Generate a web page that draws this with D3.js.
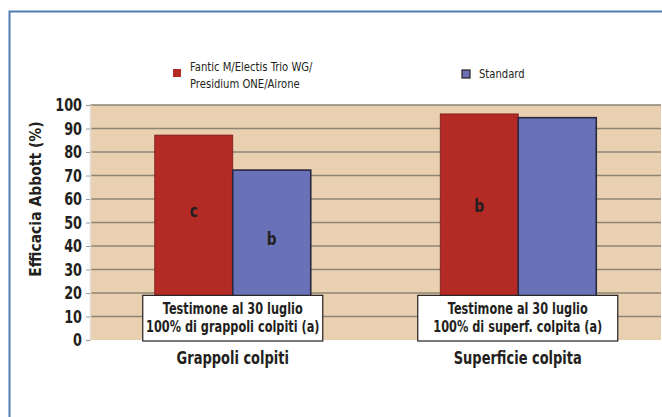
<!DOCTYPE html>
<html><head><meta charset="utf-8">
<script src="https://cdn.jsdelivr.net/npm/d3@7/dist/d3.min.js"></script>
<style>body{margin:0;background:#fff}svg{display:block}</style>
</head><body>
<script>
const categories = ["Grappoli colpiti", "Superficie colpita"];
const seriesNames = ["Fantic M/Electis Trio WG/\nPresidium ONE/Airone", "Standard"];
const fanticValues = [87.2, 96.2];
const standardValues = [72.3, 94.6];
const barLetters = [["c", "b"], ["b", ""]];
const notes = [["Testimone al 30 luglio", "100% di grappoli colpiti (a)"], ["Testimone al 30 luglio", "100% di superf. colpita (a)"]];
const yTicks = [0,10,20,30,40,50,60,70,80,90,100];
const yTitle = "Efficacia Abbott (%)";

const W = 662, H = 417;
const font = "'DejaVu Sans Condensed','Liberation Sans Narrow','Arial Narrow',sans-serif";
const ink = "#231f20";
const colors = ["#b42a25", "#6a72b7"];
const strokes = ["#7a1a16", "#2a2840"];

const svg = d3.select("body").append("svg").attr("width", W).attr("height", H);
svg.append("path").attr("d", `M9.5,${H}V11.5H${W}`).attr("fill","none").attr("stroke","#4f7ab3").attr("stroke-width",2);

function txt(sel, x, yy, t, size, bold, sx, anchor, rot) {
  return sel.append("text")
    .attr("transform", `translate(${x},${yy})${rot ? " rotate(" + rot + ")" : ""} scale(${sx},1)`)
    .attr("text-anchor", anchor || "middle").attr("font-family", font).attr("font-size", size)
    .attr("font-weight", bold ? "bold" : "normal").attr("fill", ink).text(t);
}

const m = {l: 90, r: 1, t: 105, b: 77};
const x0 = d3.scaleBand().domain(categories).range([m.l, W - m.r]);
const x1 = d3.scaleBand().domain([0,1]).range([0, x0.bandwidth()]).paddingOuter(0.83);
const y = d3.scaleLinear().domain([0,100]).range([H - m.b, m.t]);

svg.append("rect").attr("x", m.l).attr("y", m.t).attr("width", W - m.r - m.l).attr("height", y(0) - m.t).attr("fill", "#e9d0b1");
svg.append("g").selectAll("line").data(yTicks.slice(1)).join("line")
  .attr("x1", m.l).attr("x2", W - m.r).attr("y1", d => y(d)).attr("y2", d => y(d))
  .attr("stroke", "#8d8474").attr("stroke-width", 1.6);

const ax = svg.append("g").attr("transform", `translate(${m.l},0)`)
  .call(d3.axisLeft(y).tickValues(yTicks).tickSize(4).tickPadding(5));
ax.select(".domain").attr("stroke", "#e2dcd2").attr("stroke-width",1.5);
ax.selectAll(".tick line").attr("stroke", "#9a9a9a");
ax.selectAll(".tick text").remove();
yTicks.forEach(t => txt(svg, m.l - 8, y(t) + 6, String(t), 17, true, 0.84, "end"));

txt(svg, 41, 199, yTitle, 16, true, 0.97, "middle", -90);

const data = categories.map((c,i) => ({c, v:[fanticValues[i], standardValues[i]], i}));
const g = svg.append("g").selectAll("g").data(data).join("g").attr("transform", d => `translate(${x0(d.c)},0)`);
g.selectAll("rect").data(d => d.v.map((v,k)=>({v,k}))).join("rect")
  .attr("x", d => x1(d.k)).attr("width", x1.bandwidth())
  .attr("y", d => y(d.v)).attr("height", d => y(0) - y(d.v))
  .attr("fill", d => colors[d.k]).attr("stroke", d => strokes[d.k]).attr("stroke-width", d => d.k ? 1.6 : 0.8);

const letterPos = [[55, 43], [57, 0]];
g.each(function(d){
  const gg = d3.select(this);
  barLetters[d.i].forEach((L,k) => {
    if (!L) return;
    txt(gg, x1(k) + x1.bandwidth()/2, y(letterPos[d.i][k]) + 6, L, 17, true, 0.9);
  });
});

const boxW = [180, 200];
g.each(function(d){
  const gg = d3.select(this);
  const cx = x0.bandwidth()/2 + (d.i === 0 ? 0 : -0.5);
  const bw = boxW[d.i];
  gg.append("rect").attr("x", cx - bw/2).attr("y", y(19)).attr("width", bw).attr("height", y(0) - y(19) + 1)
    .attr("fill","#fff").attr("stroke", ink).attr("stroke-width",1.2);
  notes[d.i].forEach((t,j) => txt(gg, cx, y(19) + 19 + j*18, t, 15, true, 0.84));
  txt(gg, cx, y(0) + 24, d.c, 17, true, 0.85);
});

const legX = [173, 462];
seriesNames.forEach((s,k) => {
  const lines = s.split("\n");
  const lg = svg.append("g").attr("transform", `translate(${legX[k]},0)`);
  lg.append("rect").attr("x", 0).attr("y", k ? 70 : 69).attr("width", 8).attr("height", 8)
    .attr("fill", colors[k]).attr("stroke", k ? ink : "none").attr("stroke-width", 1.2);
  lines.forEach((t,j) => txt(lg, 17, k ? 78 : 71 + j*17, t, 12, false, 0.93, "start"));
});
</script>
</body></html>
